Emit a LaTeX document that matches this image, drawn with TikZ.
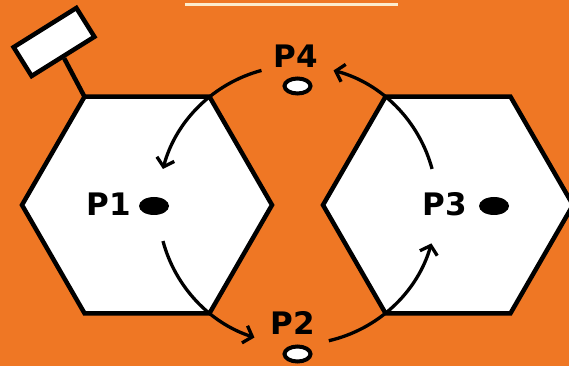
\documentclass[tikz,border=0pt]{standalone}
\usepackage{fontspec}
\setmainfont{DejaVu Sans}
\usetikzlibrary{arrows.meta,shapes.geometric,calc}
\definecolor{bg}{RGB}{239,119,36}
\definecolor{cream}{RGB}{252,236,205}
\begin{document}
\begin{tikzpicture}[x=1pt,y=1pt,
  hexa/.style={draw=black,fill=white,line width=4.5pt,line join=miter},
  flow/.style={draw=black,line width=3.3pt,-{Straight Barb[length=8pt,width=18pt,line width=3.3pt]}},
  lbl/.style={font=\fontsize{31}{31}\selectfont\bfseries,inner sep=0pt},
  site/.style={ellipse,inner sep=0pt,minimum width=30pt,minimum height=18pt,fill=black},
  slot/.style={ellipse,inner sep=0pt,minimum width=26pt,minimum height=15pt,fill=white,draw=black,line width=4pt},
  antbox/.style={draw=black,fill=white,line width=4.5pt,minimum width=74pt,minimum height=34pt,inner sep=0pt,rotate=32},
  stick/.style={draw=black,line width=4.5pt}
]
\fill[bg] (0,0) rectangle (569,366);
\useasboundingbox (0,0) rectangle (569,366);
% title underline (title text is cut off at the top)
\draw[cream,line width=3pt] (185,361.3) -- (398,361.3);
% centres
\coordinate (hL) at (147,161);
\coordinate (hR) at (448,161);
\coordinate (c) at (297.5,161);
% left hexagon
\coordinate (L0) at ($(hL)+(0:125)$);
\coordinate (L60) at ($(hL)+(60:125)$);
\coordinate (L120) at ($(hL)+(120:125)$);
\coordinate (L180) at ($(hL)+(180:125)$);
\coordinate (L240) at ($(hL)+(240:125)$);
\coordinate (L300) at ($(hL)+(300:125)$);
\draw[hexa] (L0) -- (L60) -- (L120) -- (L180) -- (L240) -- (L300) -- cycle;
% right hexagon
\coordinate (R0) at ($(hR)+(0:125)$);
\coordinate (R60) at ($(hR)+(60:125)$);
\coordinate (R120) at ($(hR)+(120:125)$);
\coordinate (R180) at ($(hR)+(180:125)$);
\coordinate (R240) at ($(hR)+(240:125)$);
\coordinate (R300) at ($(hR)+(300:125)$);
\draw[hexa] (R0) -- (R60) -- (R120) -- (R180) -- (R240) -- (R300) -- cycle;
% antenna
\node[antbox] (ant) at (54,324) {};
\draw[stick] (ant.south) -- (L120);
% labels and sites
\node[lbl] (p1) at (109,162) {P1};
\node[site] (d1) at (154,160) {};
\node[lbl] (p3) at (445,162) {P3};
\node[site] (d3) at (494,160) {};
\node[lbl] (p4) at (296,310) {P4};
\node[slot] (d4) at (297.5,280) {};
\node[lbl] (p2) at (293,43) {P2};
\node[slot] (d2) at (297.5,12) {};
% flow arcs
\coordinate (a1) at ($(c)+(105:139.3)$);
\coordinate (a2) at ($(c)+(195:139.3)$);
\coordinate (a3) at ($(c)+(283:139.3)$);
\coordinate (a4) at ($(c)+(15:139.3)$);
\draw[flow] (a1) arc[start angle=105,end angle=165,radius=139.3];
\draw[flow] (a2) arc[start angle=195,end angle=252,radius=139.3];
\draw[flow] (a3) arc[start angle=283,end angle=344,radius=139.3];
\draw[flow] (a4) arc[start angle=15,end angle=75,radius=139.3];
\end{tikzpicture}
\end{document}
